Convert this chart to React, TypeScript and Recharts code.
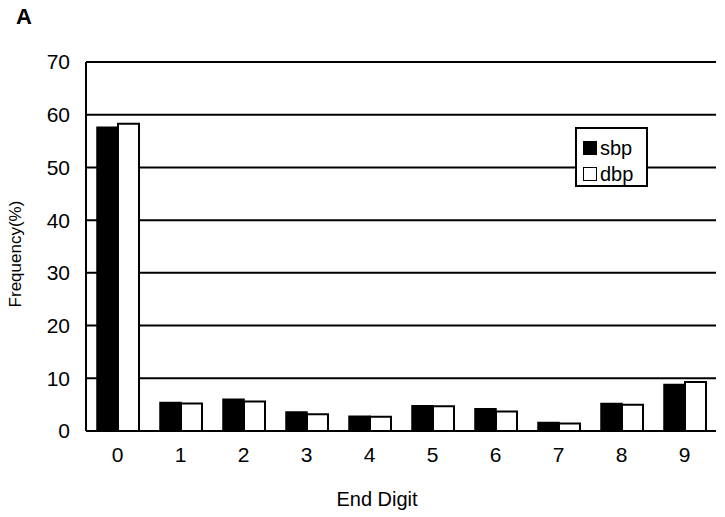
import React from 'react';
import { BarChart, Bar, XAxis, YAxis, CartesianGrid, Legend } from 'recharts';

const digits = ['0', '1', '2', '3', '4', '5', '6', '7', '8', '9'];
const sbpValues = [57.6, 5.4, 6.0, 3.6, 2.8, 4.8, 4.2, 1.6, 5.2, 8.8];
const dbpValues = [58.3, 5.2, 5.6, 3.2, 2.7, 4.7, 3.7, 1.4, 5.0, 9.3];
const yTicks = [0, 10, 20, 30, 40, 50, 60, 70];
const seriesOrder = ['sbp', 'dbp'];

const data = digits.map((d, i) => ({ digit: d, sbp: sbpValues[i], dbp: dbpValues[i] }));

const FONT = '"Liberation Sans", Arial, Helvetica, sans-serif';

const LegendBox = (props: any) => {
  const payload = [...(props.payload || [])].sort(
    (a: any, b: any) => seriesOrder.indexOf(a.value) - seriesOrder.indexOf(b.value)
  );
  return (
    <div
      style={{
        width: 73,
        height: 60,
        boxSizing: 'border-box',
        border: '2px solid #000',
        background: '#fff',
        fontFamily: FONT,
        fontSize: 20,
        color: '#000',
        paddingTop: 6,
        paddingLeft: 6,
      }}
    >
      {payload.map((p: any) => (
        <div key={p.value} style={{ display: 'flex', alignItems: 'center', height: 26 }}>
          <span
            style={{
              display: 'inline-block',
              width: 14,
              height: 14,
              boxSizing: 'border-box',
              background: p.value === 'sbp' ? '#000' : '#fff',
              border: '1.5px solid #000',
              marginRight: 3,
            }}
          />
          <span style={{ lineHeight: '22px' }}>{p.value}</span>
        </div>
      ))}
    </div>
  );
};

const YLabel = () => (
  <text
    x={21}
    y={254}
    transform="rotate(-90 21 254)"
    textAnchor="middle"
    fontFamily={FONT}
    fontSize={17}
    fill="#000"
  >
    Frequency(%)
  </text>
);

const XLabel = (props: any) => {
  const vb = props.viewBox || { x: 86, y: 431, width: 630, height: 86 };
  return (
    <text
      x={vb.x + vb.width / 2 - 24}
      y={vb.y + vb.height - 11}
      textAnchor="middle"
      fontFamily={FONT}
      fontSize={20}
      fill="#000"
    >
      End Digit
    </text>
  );
};

export default function App() {
  return (
    <div style={{ position: 'absolute', left: 0, top: 0, width: 725, height: 517, background: '#fff' }}>
      <BarChart
        width={725}
        height={517}
        data={data}
        margin={{ top: 62, right: 9, left: 0, bottom: 0 }}
        barCategoryGap="16.7%"
        barGap={0}
      >
        <CartesianGrid horizontal vertical={false} stroke="#000" strokeWidth={2} />
        <XAxis
          dataKey="digit"
          height={86}
          axisLine={{ stroke: '#000', strokeWidth: 2 }}
          tickLine={false}
          tickSize={0}
          tickMargin={16}
          tick={{ fill: '#000', fontSize: 21, fontFamily: FONT }}
          label={<XLabel />}
        />
        <YAxis
          width={86}
          domain={[0, 70]}
          ticks={yTicks}
          interval={0}
          axisLine={{ stroke: '#000', strokeWidth: 2 }}
          tickLine={false}
          tickSize={0}
          tickMargin={16}
          tick={{ fill: '#000', fontSize: 21, fontFamily: FONT }}
          label={<YLabel />}
        />
        <YAxis
          yAxisId="right"
          orientation="right"
          width={0}
          domain={[0, 70]}
          tick={false}
          tickLine={false}
          axisLine={{ stroke: '#000', strokeWidth: 2 }}
        />
        <Legend
          layout="horizontal"
          verticalAlign="middle"
          align="center"
          content={<LegendBox />}
          wrapperStyle={{ position: 'absolute', left: 575, top: 127, width: 73, height: 60 }}
        />
        <Bar dataKey="sbp" name="sbp" fill="#000" stroke="#000" strokeWidth={1.5} barSize={21} isAnimationActive={false} />
        <Bar dataKey="dbp" name="dbp" fill="#fff" stroke="#000" strokeWidth={2} barSize={21} isAnimationActive={false} />
      </BarChart>
      <div
        style={{
          position: 'absolute',
          left: 16,
          top: 6,
          fontFamily: FONT,
          fontWeight: 'bold',
          fontSize: 22,
          lineHeight: '22px',
          color: '#000',
        }}
      >
        A
      </div>
    </div>
  );
}
